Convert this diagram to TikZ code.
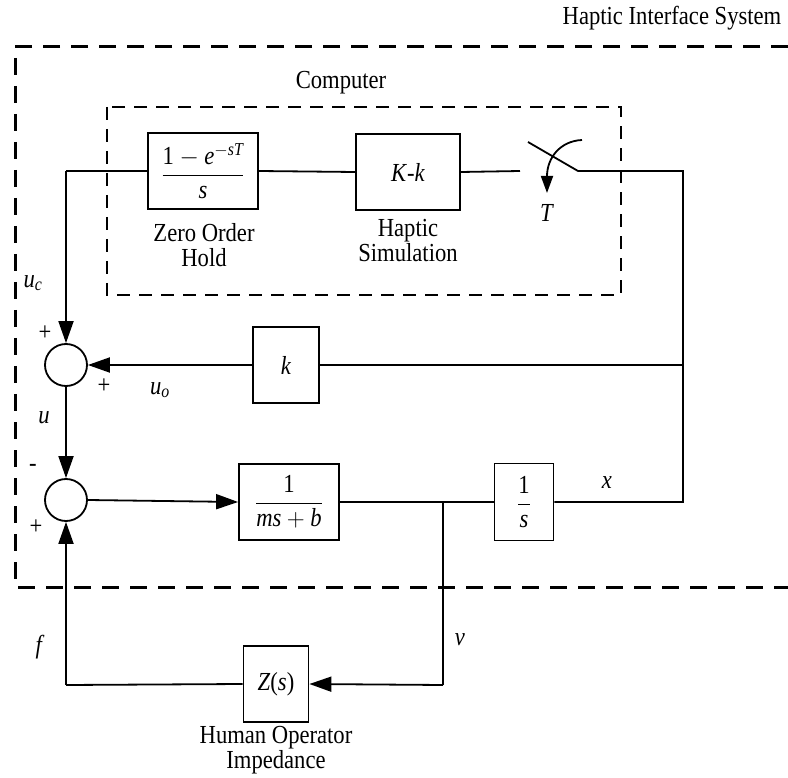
\documentclass[tikz,border=0pt]{standalone}
\usepackage{amsmath}
\usepackage{fontspec}
\setmainfont{Liberation Serif}[FakeStretch=0.87]
\usetikzlibrary{arrows.meta}
\newcommand\mi[1]{\textit{#1}}
\begin{document}
\begin{tikzpicture}[x=1pt,y=-1pt,
  font=\fontsize{26}{25}\selectfont,
  line width=1.8pt,
  blk/.style={draw, line width=1.8pt, inner sep=0pt},
  sumj/.style={circle, draw, line width=1.8pt, minimum size=42pt, inner sep=0pt},
  arr/.style={-{Triangle[length=22pt,width=15pt]}},
  sarr/.style={-{Triangle[length=17pt,width=12pt]}},
  outerdash/.style={line width=3pt, dash pattern=on 17pt off 11pt},
  innerdash/.style={line width=2pt, dash pattern=on 13pt off 9pt},
  lbl/.style={inner sep=0pt}]
\useasboundingbox (0,0) rectangle (788,778);
% dashed frames
\draw[outerdash] (788,47) -- (15,47) -- (15,587) -- (788,587);
\draw[innerdash] (107,107) rectangle (621,295);
\node[lbl] (his) at (672,18) {Haptic Interface System};
\node[lbl] (comp) at (341,83) {Computer};
% blocks
\node[blk, minimum width=110pt, minimum height=76pt] (zoh) at (203,171)
  {$\dfrac{\mbox{1} - \mi{e}^{-\mi{sT}}}{\mi{s}}$};
\node[blk, minimum width=104pt, minimum height=76pt] (hs) at (408,172) {\mi{K}-\mi{k}};
\node[sumj] (s1) at (66,365) {};
\node[sumj] (s2) at (66,500) {};
\node[blk, minimum width=66pt, minimum height=76pt] (kb) at (286,365) {\mi{k}};
\node[blk, minimum width=100pt, minimum height=76pt] (pb) at (289,502)
  {$\dfrac{\mbox{1}}{\mi{ms}+\mi{b}}$};
\node[blk, minimum width=59pt, minimum height=77pt] (ib) at (524,502)
  {$\dfrac{\mbox{1}}{\mi{s}}$};
\node[blk, minimum width=65pt, minimum height=76pt] (zb) at (276,684) {\mi{Z}(\mi{s})};
% block captions
\node[lbl, align=center] (zohl) at (204,245) {Zero Order\\Hold};
\node[lbl, align=center] (hsl) at (408,241) {Haptic\\Simulation};
\node[lbl, align=center] (zbl) at (276,750) {Human Operator\\Impedance};
% coordinates
\coordinate (zin) at (66,171);
\coordinate (swL) at (520,171);
\coordinate (swA) at (528,142);
\coordinate (swB) at (578,171);
\coordinate (cr) at (683,171);
\coordinate (ckr) at (683,365);
\coordinate (cx) at (683,502);
\coordinate (cj) at (443,502);
\coordinate (cv) at (443,685);
\coordinate (cf) at (66,685);
\coordinate (ta) at (582,140);
\coordinate (tb) at (547,193);
% connectors
\draw (zin) -- (zoh.west);
\draw[arr] (zin) -- (s1.north);
\draw (zoh.east) -- (hs.west);
\draw (hs.east) -- (swL);
\draw (swA) -- (swB) -- (cr) -- (cx) -- (ib.east);
\draw (kb.east) -- (ckr);
\draw[arr] (kb.west) -- (s1.east);
\draw[arr] (s1.south) -- (s2.north);
\draw[arr] (s2.east) -- (pb.west);
\draw (pb.east) -- (ib.west);
\draw (cj) -- (cv);
\draw[arr] (cv) -- (zb.east);
\draw (zb.west) -- (cf);
\draw[arr] (cf) -- (s2.south);
\draw[sarr] (ta) .. controls (560,141) and (547,158) .. (tb);
% signal labels
\node[lbl] (tl) at (547,213) {\mi{T}};
\node[lbl] (uc) at (33,283) {\mi{u}\textsubscript{\mi{c}}};
\node[lbl] (uo) at (160,390) {\mi{u}\textsubscript{\mi{o}}};
\node[lbl] (ul) at (44,418) {\mi{u}};
\node[lbl] (fl) at (40,647) {\mi{f}};
\node[lbl] (vl) at (460,640) {\mi{v}};
\node[lbl] (xl) at (607,483) {\mi{x}};
\node[lbl] (p1) at (45,333) {+};
\node[lbl] (p2) at (104,386) {+};
\node[lbl] (m3) at (33,468) {-};
\node[lbl] (p4) at (36,527) {+};
\end{tikzpicture}
\end{document}
